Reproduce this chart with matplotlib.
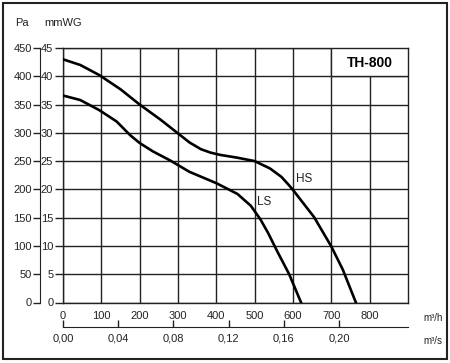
import matplotlib
matplotlib.use("Agg")
import matplotlib.pyplot as plt
from matplotlib.patches import Rectangle

plt.rcParams["font.family"] = ["Liberation Sans", "DejaVu Sans"]

# ── Data ──────────────────────────────────────────────────────────────────────
HS_FLOW = [0, 45, 95, 150, 200, 255, 300, 330, 360, 385, 410, 455, 500, 540, 570,
           590, 600, 655, 700, 730, 764]
HS_MMWG = [43.0, 42.0, 40.2, 37.7, 35.0, 32.3, 29.9, 28.3, 27.1, 26.5, 26.1, 25.6,
           25.0, 23.7, 22.2, 20.7, 19.9, 15.1, 9.9, 5.8, 0]
LS_FLOW = [0, 45, 95, 140, 175, 200, 235, 280, 330, 400, 455, 490, 515, 535, 560,
           590, 621]
LS_MMWG = [36.6, 35.8, 34.0, 32.0, 29.6, 28.2, 26.7, 25.1, 23.1, 21.1, 19.2, 17.1,
           14.7, 12.3, 8.9, 5.0, 0]

FLOW_TICKS = [0, 100, 200, 300, 400, 500, 600, 700, 800]
MMWG_TICKS = [0, 5, 10, 15, 20, 25, 30, 35, 40, 45]
PA_TICKS = [0, 50, 100, 150, 200, 250, 300, 350, 400, 450]
M3S_TICKS = [0.00, 0.04, 0.08, 0.12, 0.16, 0.20]

W, H = 450, 363
X0, X1, Y0, Y1 = 63, 408, 48, 302.5   # plot area in pixels
GRID = "#222222"

fig = plt.figure(figsize=(W / 100, H / 100), dpi=100)
fig.patch.set_facecolor("white")

def fx(px):
    return px / W

def fy(py):
    return 1 - py / H

# ── Main axes (m³/h vs mmWG) ──────────────────────────────────────────────────
ax = fig.add_axes([fx(X0), fy(Y1), fx(X1 - X0), (Y1 - Y0) / H])
ax.set_xlim(0, 900)
ax.set_ylim(0, 45)
ax.set_xticks(FLOW_TICKS)
ax.set_yticks(MMWG_TICKS)
ax.set_xticklabels([str(v) for v in FLOW_TICKS])
ax.set_yticklabels([str(v) for v in MMWG_TICKS])
ax.grid(True, color=GRID, linewidth=1.0)
ax.tick_params(axis="x", length=0, pad=6, labelsize=8, colors="#222222")
ax.tick_params(axis="y", length=6, width=1, pad=1, labelsize=8, colors="#222222")
for s in ax.spines.values():
    s.set_color(GRID)
    s.set_linewidth(1.0)

ax.plot(HS_FLOW, HS_MMWG, color="black", linewidth=1.9, zorder=4,
        solid_joinstyle="round")
ax.plot(LS_FLOW, LS_MMWG, color="black", linewidth=1.9, zorder=4,
        solid_joinstyle="round")
ax.text(608, 21.3, "HS", fontsize=8.5, color="#222222", zorder=5)
ax.text(505, 17.2, "LS", fontsize=8.5, color="#222222", zorder=5)

ax.add_patch(Rectangle((700, 40), 200, 5, facecolor="white", edgecolor=GRID,
                       linewidth=1.0, zorder=3))
ax.text(800, 42.4, "TH-800", fontsize=10, fontweight="bold", ha="center",
        va="center", zorder=5)

# ── Pa axis ───────────────────────────────────────────────────────────────────
pa = fig.add_axes([fx(40), fy(Y1), 0.0001, (Y1 - Y0) / H])
pa.set_ylim(0, 450)
pa.set_yticks(PA_TICKS)
pa.set_xticks([])
for k in ("top", "right", "bottom"):
    pa.spines[k].set_visible(False)
pa.spines["left"].set_color(GRID)
pa.tick_params(axis="y", length=5, width=1, pad=1, labelsize=8, colors="#222222")
pa.patch.set_visible(False)

# ── m³/s axis ─────────────────────────────────────────────────────────────────
ms = fig.add_axes([fx(X0), fy(327), fx(X1 - X0), 0.0001])
ms.set_xlim(0, 900 / 3600)
ms.set_xticks(M3S_TICKS)
ms.set_xticklabels([f"{v:.2f}".replace(".", ",") for v in M3S_TICKS])
ms.set_yticks([])
for k in ("top", "right", "left"):
    ms.spines[k].set_visible(False)
ms.spines["bottom"].set_color(GRID)
ms.tick_params(axis="x", direction="in", length=5, width=1, pad=5, labelsize=8,
               colors="#222222")
ms.patch.set_visible(False)

# ── Unit labels and frame ─────────────────────────────────────────────────────
fig.text(fx(22), fy(23), "Pa", fontsize=8, ha="center", va="center", color="#222222")
fig.text(fx(63), fy(23), "mmWG", fontsize=8, ha="center", va="center", color="#222222")
fig.text(fx(433), fy(318), "m³/h", fontsize=7, ha="center", va="center", color="#222222")
fig.text(fx(433), fy(341), "m³/s", fontsize=7, ha="center", va="center", color="#222222")

fig.add_artist(Rectangle((fx(3), fy(359)), fx(444), (356) / H, transform=fig.transFigure,
                         fill=False, edgecolor="#222222", linewidth=1.5))

fig.savefig("out.png", dpi=100)
